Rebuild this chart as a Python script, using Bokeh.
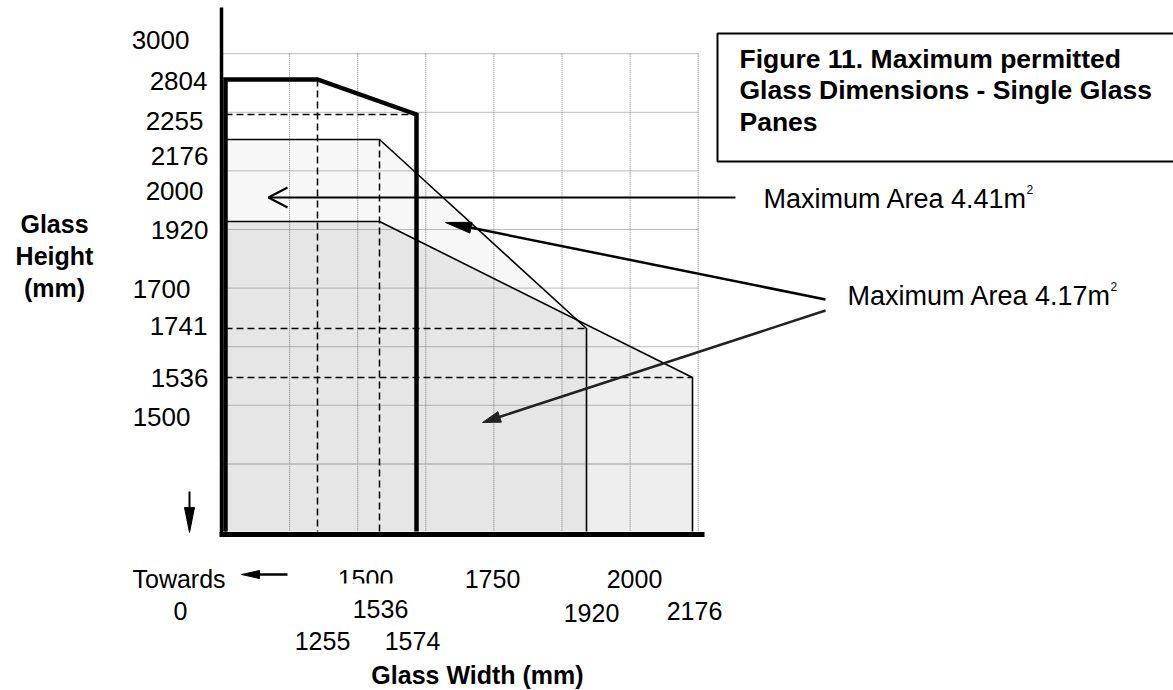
import numpy as np
from bokeh.plotting import figure
from bokeh.models import Range1d
from bokeh.core.properties import value
from bokeh.embed import file_html
from bokeh.resources import INLINE

FONT = value("Liberation Sans")

# ---------------- data (glass dimensions, mm) ----------------
# thick outline: absolute limit
outer_w = [0, 0, 1255, 1574, 1574]
outer_h = [0, 2804, 2804, 2255, 0]
# Maximum area 4.41 m2 envelope
area441_w = [0, 0, 1536, 1920, 1920]
area441_h = [0, 2176, 2176, 1741, 0]
# Maximum area 4.17 m2 envelope
area417_w = [0, 0, 1536, 2176, 2176]
area417_h = [0, 1920, 1920, 1536, 0]

# dashed guide lines
guide_h_heights = [2255, 1741, 1536]   # horizontal guides ...
guide_h_widths = [1574, 1920, 2176]    # ... running out to these widths
guide_v_widths = [1255, 1536]          # vertical guides ...
guide_v_heights = [2804, 2176]         # ... dropping from these heights

y_labels = ["3000", "2804", "2255", "2176", "2000", "1920", "1700", "1741", "1536", "1500"]
x_labels_top = ["1500", "1750", "2000"]
x_labels_mid = ["0", "1536", "1920", "2176"]
x_labels_low = ["1255", "1574"]
area_labels = ["Maximum Area 4.41m", "Maximum Area 4.17m"]
title_lines = ["Figure 11. Maximum permitted", "Glass Dimensions - Single Glass", "Panes"]
y_title = ["Glass", "Height", "(mm)"]
x_title = "Glass Width (mm)"

# ---------------- schematic layout (drawing is not to scale; page pixels) ----------------
W_POS = {0: 225, 1255: 317, 1536: 379, 1574: 416, 1920: 586, 2176: 692}
H_POS = {0: 531, 1536: 377, 1741: 328, 1920: 221, 2176: 139, 2255: 114, 2804: 79}


def sx(ws):
    return [W_POS[w] for w in ws]


def sy(hs):
    return [H_POS[h] for h in hs]


GRID_X0, GRID_DX, GRID_NX = 221, 68.1, 7
GRID_Y0, GRID_DY, GRID_NY = 522, 58.6, 8
AXIS_X, AXIS_Y = 221, 534

W, H = 1173, 690
p = figure(width=W, height=H, x_range=Range1d(0, W), y_range=Range1d(H, 0),
           output_backend="svg", toolbar_location=None, min_border=0)
p.axis.visible = False
p.grid.visible = False
p.outline_line_color = None
p.background_fill_color = "white"
p.border_fill_color = "white"

# ---- shaded envelopes ----
p.patch(sx(area417_w), sy(area417_h), fill_color="black", fill_alpha=0.068, line_color=None)
p.patch(sx(area441_w), sy(area441_h), fill_color="black", fill_alpha=0.032, line_color=None)

# ---- dotted grid ----
gx = GRID_X0 + GRID_DX * np.arange(1, GRID_NX + 1)
p.segment(x0=gx, y0=[GRID_Y0 - GRID_DY * GRID_NY] * len(gx), x1=gx, y1=[H_POS[0]] * len(gx),
          line_color="#7a7a7a", line_width=1, line_dash="1 1")
gy = GRID_Y0 - GRID_DY * np.arange(2, GRID_NY + 1)
p.segment(x0=[GRID_X0] * len(gy), y0=gy, x1=[GRID_X0 + GRID_DX * GRID_NX] * len(gy), y1=gy,
          line_color="#7a7a7a", line_width=1, line_dash="1 1")
p.segment(x0=[GRID_X0], y0=[GRID_Y0 - GRID_DY], x1=[W_POS[2176]], y1=[GRID_Y0 - GRID_DY],
          line_color="#b4b4b4", line_width=1.5)

# ---- dashed guides ----
p.segment(x0=[W_POS[0]] * 3, y0=sy(guide_h_heights), x1=sx(guide_h_widths), y1=sy(guide_h_heights),
          line_color="black", line_width=1.5, line_dash="7 4")
p.segment(x0=sx(guide_v_widths), y0=sy(guide_v_heights), x1=sx(guide_v_widths), y1=[H_POS[0]] * 2,
          line_color="black", line_width=1.5, line_dash="7 4")

# ---- envelope outlines ----
p.line(sx(area441_w), sy(area441_h), line_color="black", line_width=1.6)
p.line(sx(area417_w), sy(area417_h), line_color="black", line_width=1.6)
p.line(sx(outer_w), sy(outer_h), line_color="black", line_width=4.5, line_join="miter")

# ---- axes lines ----
p.segment(x0=[AXIS_X], y0=[7], x1=[AXIS_X], y1=[AXIS_Y], line_color="black", line_width=3.5)
p.segment(x0=[219], y0=[AXIS_Y], x1=[704], y1=[AXIS_Y], line_color="black", line_width=5)


# ---- arrows ----
def arrow(tail, tip, head_len, head_hw, lw, color="black", open_head=False):
    (x0, y0), (x1, y1) = tail, tip
    d = np.array([x1 - x0, y1 - y0], dtype=float)
    d /= np.hypot(*d)
    n = np.array([-d[1], d[0]])
    base = np.array([x1, y1]) - d * head_len
    w1 = base + n * head_hw
    w2 = base - n * head_hw
    if open_head:
        p.line([x0, x1], [y0, y1], line_color=color, line_width=lw)
        p.line([w1[0], x1, w2[0]], [w1[1], y1, w2[1]], line_color=color, line_width=lw)
    else:
        p.line([x0, base[0] + d[0] * 2], [y0, base[1] + d[1] * 2], line_color=color, line_width=lw)
        p.patch([w1[0], x1, w2[0]], [w1[1], y1, w2[1]], fill_color=color, line_color=color, line_width=1)


arrow((735, 197), (268, 197), 19, 10, 2, open_head=True)
arrow((825, 299), (445, 222), 26, 5.5, 2.5)
arrow((825, 310), (482, 422), 18, 5.5, 2.5, color="#222222")
arrow((189, 491), (189, 532), 25, 5, 2)
arrow((287, 574), (241, 574), 18, 4, 2.5)

# ---- title box ----
p.quad(left=[717], right=[1190], top=[33], bottom=[161], fill_color=None, line_color="black", line_width=2)
p.text(x=[739] * 3, y=[58, 89.5, 121], text=title_lines, text_font=FONT, text_font_style="bold",
       text_font_size="26.5px", text_color="black", text_baseline="middle", text_align="left")

# ---- area labels ----
p.text(x=[763, 847], y=[198, 295], text=area_labels, text_font=FONT, text_font_size="27px",
       text_color="black", text_baseline="middle", text_align="left")
p.text(x=[1026, 1110], y=[189, 286], text=["2", "2"], text_font=FONT, text_font_size="12px",
       text_color="black", text_baseline="middle", text_align="left")

# ---- y labels ----
Y_LABEL_X = [189, 207, 203, 208, 203, 208, 190, 207, 208, 190]
Y_LABEL_Y = [39, 80, 120, 155, 190, 229, 288, 325, 377, 416]
p.text(x=Y_LABEL_X, y=Y_LABEL_Y, text=y_labels, text_font=FONT, text_font_size="26px",
       text_color="black", text_baseline="middle", text_align="right")
p.text(x=[54] * 3, y=[223.5, 255.5, 287.5], text=y_title, text_font=FONT, text_font_style="bold",
       text_font_size="25px", text_color="black", text_baseline="middle", text_align="center")

# ---- x labels ----
p.text(x=[132], y=[578], text=["Towards"], text_font=FONT, text_font_size="25px",
       text_color="black", text_baseline="middle", text_align="left")
p.text(x=[365, 492, 634], y=[578] * 3, text=x_labels_top, text_font=FONT, text_font_size="25px",
       text_color="black", text_baseline="middle", text_align="center")
# the "1500" label is partly masked in the original drawing
p.quad(left=[330], right=[402], top=[583], bottom=[594], fill_color="white", line_color=None)
p.text(x=[180, 380, 591, 694], y=[610, 608, 612, 610], text=x_labels_mid, text_font=FONT,
       text_font_size="25px", text_color="black", text_baseline="middle", text_align="center")
p.text(x=[322, 412], y=[640, 640], text=x_labels_low, text_font=FONT, text_font_size="25px",
       text_color="black", text_baseline="middle", text_align="center")
p.text(x=[477], y=[674], text=[x_title], text_font=FONT, text_font_style="bold",
       text_font_size="25px", text_color="black", text_baseline="middle", text_align="center")

open("out.html", "w").write(file_html(p, INLINE))
